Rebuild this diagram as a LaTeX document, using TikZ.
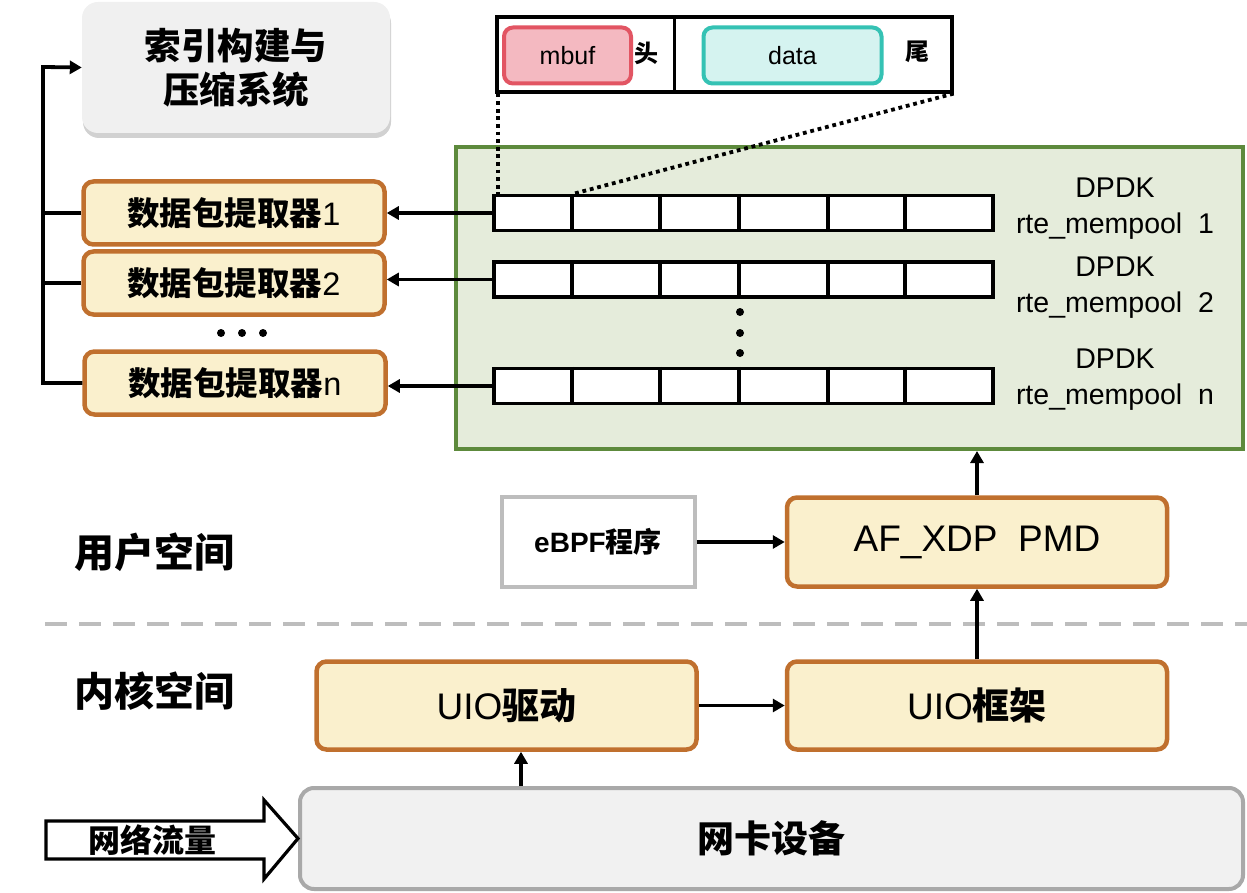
\documentclass[tikz,border=0pt]{standalone}
\usepackage{fontspec}
\setmainfont{Noto Sans CJK SC}
\newfontfamily\lat{Liberation Sans}
\usetikzlibrary{arrows.meta,shadows}
\definecolor{cream}{HTML}{FAF0CD}
\definecolor{brd}{HTML}{C0702E}
\definecolor{gfill}{HTML}{E5ECDB}
\definecolor{gbrd}{HTML}{5D8A3C}
\definecolor{pfill}{HTML}{F4B9C1}
\definecolor{pbrd}{HTML}{E25563}
\definecolor{tfill}{HTML}{D5F3F0}
\definecolor{tbrd}{HTML}{35C2B4}
\definecolor{lgray}{HTML}{BDBDBD}
\definecolor{nfill}{HTML}{F1F1F1}
\definecolor{nbrd}{HTML}{A9A9A9}
\definecolor{ifill}{HTML}{F0F0F0}
\begin{document}
\begin{tikzpicture}[x=1pt,y=-1pt,
  box/.style={rectangle, inner sep=0pt, align=center},
  ext/.style={box, draw=brd, fill=cream, line width=4.5pt, rounded corners=10pt},
  ln/.style={line width=3.8pt},
  arr/.style={ln, -{Triangle[length=12pt,width=13pt]}},
  cell/.style={box, draw=black, fill=white, line width=3.2pt},
  dotn/.style={circle, fill=black, inner sep=0pt, minimum size=8pt},
  dots/.style={line width=3.8pt, dash pattern=on 3.8pt off 3.8pt},
  lbl/.style={font=\lat\fontsize{28.5}{36}\selectfont, align=center},
  cjkb/.style={font=\bfseries\fontsize{#1}{#1}\selectfont},
]
\useasboundingbox (0,0) rectangle (1247,893);

% index system
\node[box, fill=ifill, rounded corners=16pt, minimum width=308pt, minimum height=131pt,
  drop shadow={shadow xshift=1pt, shadow yshift=-5pt, opacity=0.3, fill=black!60},
  font=\bfseries\fontsize{36.5}{44}\selectfont] (idx) at (236,67.5) {索引构建与\\压缩系统};

% extractors
\node[ext, minimum width=301pt, minimum height=63pt, font=\fontsize{32.5}{36}\selectfont] (e1) at (234,213) {\textbf{数据包提取器}{\lat 1}};
\node[ext, minimum width=301pt, minimum height=63pt, font=\fontsize{32.5}{36}\selectfont] (e2) at (234,283) {\textbf{数据包提取器}{\lat 2}};
\node[ext, minimum width=301pt, minimum height=63pt, font=\fontsize{32.5}{36}\selectfont] (en) at (235,383) {\textbf{数据包提取器}{\lat n}};
\node[dotn] (d1) at (221,333) {};
\node[dotn] (d2) at (242,333) {};
\node[dotn] (d3) at (263,333) {};

% bus
\coordinate (bt) at (43,67);
\coordinate (bb) at (43,383);
\draw[arr] (en.west) -- (bb) -- (bt) -- (idx.west);
\draw[ln] (e1.west) -- (e1.west -| bb);
\draw[ln] (e2.west) -- (e2.west -| bb);

% mempool area
\node[box, draw=gbrd, fill=gfill, line width=4pt, minimum width=787pt, minimum height=302pt] (pool) at (849.5,298) {};
\node[cell, minimum width=499pt, minimum height=35pt] (r1) at (743.5,213) {};
\node[cell, minimum width=499pt, minimum height=35pt] (r2) at (743.5,279.5) {};
\node[cell, minimum width=499pt, minimum height=35pt] (rn) at (743.5,386) {};
\foreach \r in {r1,r2,rn}{
  \foreach \x in {572,660,739,828,905}{
    \draw[line width=3.2pt] (\x,0 |- \r.north) -- (\x,0 |- \r.south);
  }
}
\node[dotn] (v1) at (740,312) {};
\node[dotn] (v2) at (740,333) {};
\node[dotn] (v3) at (740,353) {};
\node[lbl] (l1) at (1115,209) {DPDK\\rte\_mempool\ \ 1};
\node[lbl] (l2) at (1115,287.5) {DPDK\\rte\_mempool\ \ 2};
\node[lbl] (ln) at (1115,380) {DPDK\\rte\_mempool\ \ n};

\draw[arr] (r1.west) -- (r1.west -| e1.east);
\draw[arr] (r2.west) -- (r2.west -| e2.east);
\draw[arr] (rn.west) -- (rn.west -| en.east);

% mbuf detail
\node[box, draw=black, fill=white, line width=3.2pt, minimum width=455pt, minimum height=75pt] (det) at (724.5,54.5) {};
\draw[line width=3pt] (674,0 |- det.north) -- (674,0 |- det.south);
\node[box, draw=pbrd, fill=pfill, line width=4pt, rounded corners=9pt, minimum width=127pt, minimum height=56pt, font=\lat\fontsize{25}{30}\selectfont] (mbuf) at (567.5,55.5) {mbuf};
\node[cjkb=24] (head) at (646,53) {头};
\node[box, draw=tbrd, fill=tfill, line width=4pt, rounded corners=9pt, minimum width=178pt, minimum height=56pt, font=\lat\fontsize{25}{30}\selectfont] (data) at (792.5,55.5) {data};
\node[cjkb=24] (tail) at (917,52) {尾};
\draw[dots] (498,0 |- det.south) -- (498,0 |- r1.north);
\draw[dots] (det.south east) -- (573,0 |- r1.north);

% user space
\node[box, draw=lgray, fill=white, line width=4pt, minimum width=193pt, minimum height=90pt, font=\bfseries\fontsize{28}{32}\selectfont] (ebpf) at (598,542) {{\lat eBPF}程序};
\node[ext, minimum width=380pt, minimum height=89pt, font=\lat\fontsize{37}{42}\selectfont] (af) at (977,542) {AF\_XDP\ \ PMD};
\draw[arr] (ebpf.east) -- (af.west);
\draw[arr] (af.north) -- (af.north |- pool.south);

\draw[lgray, line width=4pt, dash pattern=on 22pt off 12pt] (45,624) -- (1247,624);
\node[cjkb=40] (us) at (154,552) {用户空间};
\node[cjkb=40] (ks) at (154,691) {内核空间};

% kernel
\node[ext, minimum width=380pt, minimum height=88pt, font=\fontsize{37}{42}\selectfont] (uio) at (506.5,705.5) {{\lat UIO}\textbf{驱动}};
\node[ext, minimum width=380pt, minimum height=88pt, font=\fontsize{37}{42}\selectfont] (fw) at (977,705.5) {{\lat UIO}\textbf{框架}};
\draw[arr] (uio.east) -- (fw.west);
\draw[arr] (fw.north) -- (af.south);

\node[box, draw=nbrd, fill=nfill, line width=4pt, rounded corners=14pt, minimum width=943pt, minimum height=101pt, font=\bfseries\fontsize{37}{40}\selectfont] (nic) at (771.5,838.5) {网卡设备};
\draw[arr] (nic.north -| 521,0) -- (521,0 |- uio.south);

% traffic arrow
\coordinate (tip) at (nic.west);
\draw[line width=3.2pt, fill=white, line join=miter] (46,821) -- (264,821) -- (264,800) -- (tip) -- (264,879) -- (264,859) -- (46,859) -- cycle;
\node[cjkb=32] (flow) at (152,840) {网络流量};
\end{tikzpicture}
\end{document}
